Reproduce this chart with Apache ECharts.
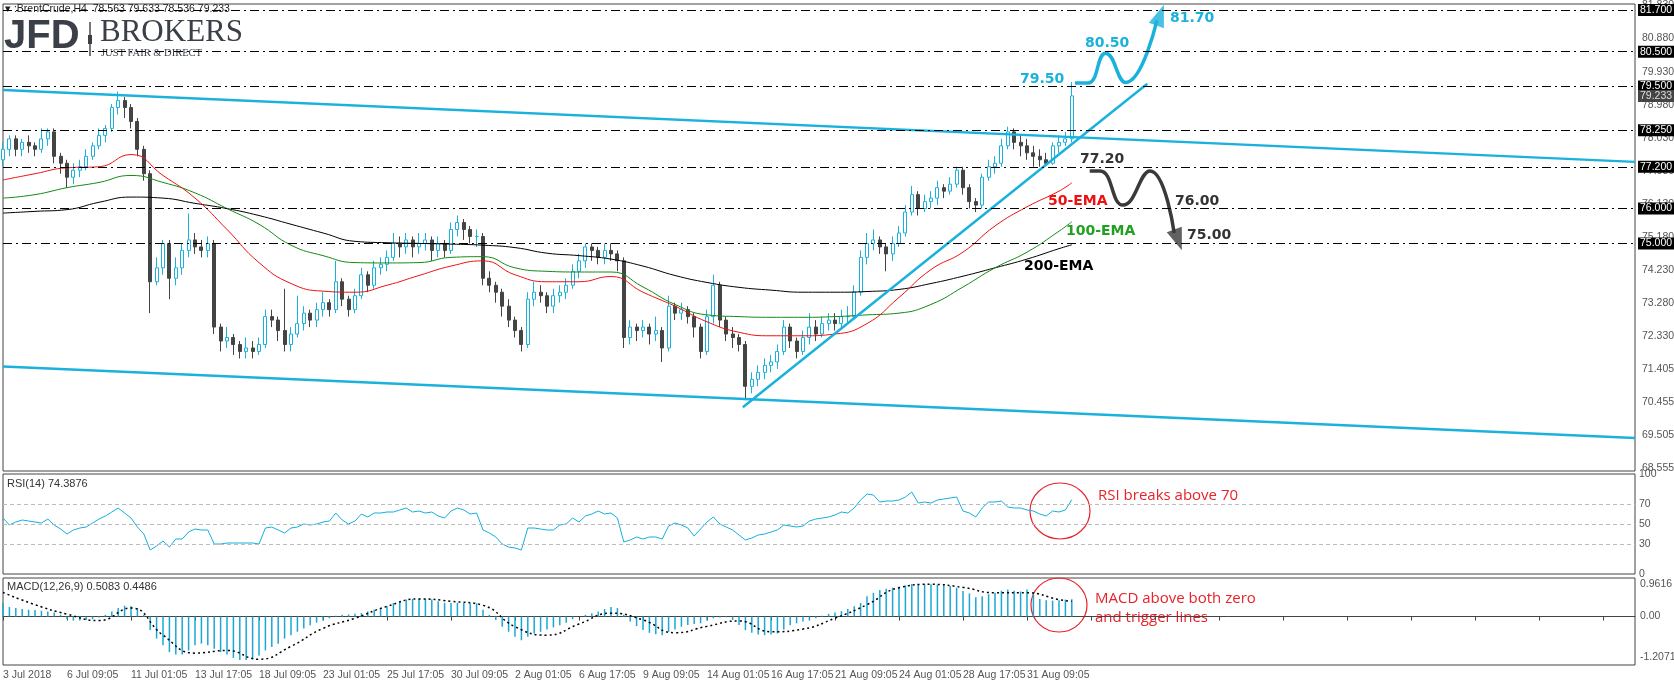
<!DOCTYPE html>
<html>
<head>
<meta charset="utf-8">
<script src="https://cdn.jsdelivr.net/npm/echarts@6/dist/echarts.min.js"></script>
<style>
  html, body {margin: 0; padding: 0; background: #fff;}
  #chart {width: 1674px; height: 686px;}
</style>
</head>
<body>
<div id="chart"></div>
<script>
// 8h candles
const opens = [77.4,77.7,78.0,77.7,77.9,77.8,77.7,78.0,78.2,77.5,77.3,76.9,77.1,77.2,77.5,77.8,78.1,78.3,78.9,79.1,
  78.9,78.5,77.7,77.0,73.9,74.3,75.0,74.0,74.3,74.8,75.1,74.9,74.8,75.0,72.6,72.2,72.3,72.1,71.9,72.0,
  71.9,72.1,72.9,72.8,72.5,72.1,72.4,72.7,73.0,72.8,73.1,73.3,73.1,73.9,73.4,73.1,73.5,74.1,73.8,74.3,
  74.4,74.6,75.0,74.9,75.1,74.9,75.0,75.1,74.8,75.0,74.8,75.4,75.6,75.4,75.2,75.2,74.0,73.8,73.6,73.2,
  72.8,72.5,72.1,73.4,73.6,73.5,73.2,73.5,73.6,73.8,74.2,74.5,74.9,74.8,74.6,74.8,74.7,74.5,72.3,72.6,
  72.5,72.6,72.4,72.5,72.0,73.2,73.0,73.1,72.9,72.6,71.9,72.9,73.8,72.8,72.4,72.3,72.1,70.9,71.1,71.3,
  71.5,71.6,71.9,72.6,72.2,71.9,72.3,72.6,72.4,72.7,72.8,72.7,72.9,72.9,73.6,74.6,75.0,75.1,74.9,74.7,
  75.0,75.3,75.9,76.4,76.0,76.2,76.3,76.6,76.5,76.7,77.1,76.6,76.2,76.1,76.9,77.2,77.3,77.8,78.2,77.9,
  77.8,77.6,77.5,77.4,77.3,77.8,77.9,78.0];
const closes = [77.7,78.0,77.7,77.9,77.8,77.7,78.0,78.2,77.5,77.3,76.9,77.1,77.2,77.5,77.8,78.1,78.3,78.9,79.1,78.9,
  78.5,77.7,77.0,73.9,74.3,75.0,74.0,74.3,74.8,75.1,74.9,74.8,75.0,72.6,72.2,72.3,72.1,71.9,72.0,71.9,
  72.1,72.9,72.8,72.5,72.1,72.4,72.7,73.0,72.8,73.1,73.3,73.1,73.9,73.4,73.1,73.5,74.1,73.8,74.3,74.4,
  74.6,75.0,74.9,75.1,74.9,75.0,75.1,74.8,75.0,74.8,75.4,75.6,75.4,75.2,75.2,74.0,73.8,73.6,73.2,72.8,
  72.5,72.1,73.4,73.6,73.5,73.2,73.5,73.6,73.8,74.2,74.5,74.9,74.8,74.6,74.8,74.7,74.5,72.3,72.6,72.5,
  72.6,72.4,72.5,72.0,73.2,73.0,73.1,72.9,72.6,71.9,72.9,73.8,72.8,72.4,72.3,72.1,70.9,71.1,71.3,71.5,
  71.6,71.9,72.6,72.2,71.9,72.3,72.6,72.4,72.7,72.8,72.7,72.9,72.9,73.6,74.6,75.0,75.1,74.9,74.7,75.0,
  75.3,75.9,76.4,76.0,76.2,76.3,76.6,76.5,76.7,77.1,76.6,76.2,76.1,76.9,77.2,77.3,77.8,78.2,77.9,77.8,
  77.6,77.5,77.4,77.3,77.8,77.9,78.0,79.233];
const lows = [77.2,77.5,77.5,77.5,77.6,77.5,77.6,77.8,77.3,77.0,76.6,76.7,76.9,77.1,77.4,77.7,77.9,78.2,78.7,78.6,
  78.3,77.5,76.8,73.0,73.8,74.1,73.4,73.8,74.1,74.6,74.7,74.6,74.6,72.4,71.9,72.0,71.8,71.7,71.7,71.7,
  71.8,72.0,72.6,72.2,71.9,71.9,72.3,72.5,72.6,72.6,72.9,72.9,73.0,73.2,72.9,73.0,73.4,73.6,73.7,74.1,
  74.2,74.5,74.6,74.7,74.6,74.7,74.8,74.5,74.6,74.6,74.7,75.2,75.1,75.0,74.9,73.8,73.6,73.3,72.9,72.6,
  72.3,71.9,72.0,73.2,73.3,73.0,73.0,73.3,73.4,73.7,74.0,74.3,74.5,74.4,74.4,74.5,74.2,72.0,72.1,72.2,
  72.3,72.1,72.2,71.6,71.9,72.8,72.8,72.7,72.3,71.7,71.8,72.7,72.6,72.2,72.0,71.9,70.5,70.7,70.9,71.1,
  71.3,71.4,71.8,72.0,71.7,71.8,72.1,72.2,72.3,72.5,72.5,72.6,72.7,72.8,73.5,74.4,74.8,74.7,74.2,74.5,
  74.9,75.2,75.8,75.8,75.9,76.0,76.1,76.3,76.4,76.6,76.4,76.0,75.9,76.0,76.8,77.0,77.2,77.7,77.7,77.5,
  77.4,77.2,77.2,77.25,77.25,77.6,77.8,77.9];
const highs = [77.9,78.1,78.1,78.0,78.1,77.9,78.3,78.3,78.3,77.6,77.4,77.3,77.4,77.7,77.9,78.3,78.4,79.0,79.36,79.2,
  79.0,78.6,77.8,77.1,74.6,75.1,75.1,74.6,75.0,75.86,75.3,75.1,75.2,75.1,72.7,72.6,72.4,72.2,72.3,72.2,
  72.3,73.1,73.1,72.9,73.7,72.6,73.5,73.2,73.1,73.3,73.6,73.4,74.5,74.0,73.5,73.7,74.3,74.2,74.5,74.6,
  74.8,75.3,75.2,75.3,75.2,75.3,75.3,75.2,75.2,75.1,75.6,75.8,75.7,75.5,75.4,75.3,74.2,73.9,73.7,73.4,
  72.9,72.6,73.6,73.9,73.8,73.6,73.7,73.8,74.0,74.4,74.7,75.0,75.0,74.9,75.0,75.0,74.8,74.6,72.8,72.7,
  72.8,72.7,72.9,72.6,73.5,73.3,73.3,73.2,73.0,72.7,73.1,74.1,73.9,72.9,72.6,72.4,72.2,71.3,71.5,71.7,
  71.8,72.1,72.8,72.7,72.3,72.5,73.0,72.8,72.9,73.0,73.0,73.1,73.2,73.8,74.8,75.3,75.4,75.2,75.0,75.2,
  75.5,76.1,76.65,76.5,76.4,76.5,76.8,76.7,76.9,77.2,77.2,76.7,76.3,77.0,77.4,77.5,78.0,78.35,78.3,78.1,
  78.0,77.8,77.7,77.6,77.9,78.1,78.2,79.633];

// moving averages, read every 5th candle (null in between)
const emaIdx = [0,5,10,15,20,25,30,35,40,45,50,55,60,65,70,75,80,85,90,95,100,105,110,115,120,125,130,135,140,145,150,155,160,165,167];
const ema50 = [76.82,77.0,77.17,77.2,77.55,76.95,76.3,75.4,74.45,73.85,73.63,73.6,73.8,74.08,74.35,74.5,74.1,73.9,73.9,74.05,
  73.6,73.2,72.75,72.45,72.35,72.35,72.4,72.7,73.45,74.25,74.75,75.5,76.05,76.5,76.74];
const ema100 = [76.3,76.4,76.6,76.75,76.95,76.75,76.45,76.0,75.55,74.95,74.65,74.45,74.44,74.45,74.6,74.62,74.3,74.2,74.18,74.18,
  73.75,73.25,72.95,72.9,72.88,72.88,72.9,72.95,73.0,73.25,73.75,74.3,74.75,75.35,75.62];
const ema200 = [75.87,75.92,75.97,76.18,76.33,76.3,76.15,76.0,75.8,75.55,75.3,75.06,75.02,75.0,74.98,74.95,74.88,74.72,74.65,74.55,
  74.35,74.08,73.88,73.74,73.66,73.6,73.6,73.62,73.68,73.85,74.06,74.3,74.55,74.85,74.96];

const rsi = [56,49,52,54,53,52,51,55,49,45,40,44,46,47,51,55,58,62,66,61,
  56,47,40,24,28,33,27,35,35,42,45,44,44,30,30,31,31,31,31,31,
  30,46,47,44,41,46,47,50,49,50,52,53,61,54,50,53,60,57,61,61,
  62,62,64,66,62,63,61,62,58,56,63,66,64,60,61,44,41,37,30,27,
  26,24,46,46,45,44,44,49,50,56,52,58,60,63,60,61,56,32,34,37,
  35,37,37,35,48,51,49,46,38,45,52,57,50,47,44,39,34,36,39,40,
  42,44,49,48,47,48,53,55,56,57,59,62,61,66,74,80,79,72,73,73,
  74,77,82,71,72,71,74,75,76,77,63,61,57,66,72,72,73,67,66,66,
  64,63,60,58,63,62,64,74.39];
const macdHist = [0.40,0.28,0.25,0.22,0.2,0.19,0.17,0.15,0.12,0.05,-0.08,-0.12,-0.12,-0.1,-0.08,-0.03,0.05,0.15,0.25,0.32,
  0.3,0.25,0.05,-0.4,-0.65,-0.85,-1.05,-1.12,-1.12,-1.0,-0.85,-0.8,-0.85,-0.95,-1.05,-1.12,-1.22,-1.28,-1.28,-1.26,
  -1.15,-1.0,-0.9,-0.8,-0.65,-0.55,-0.45,-0.35,-0.26,-0.18,-0.12,-0.05,0.02,0.05,0.06,0.08,0.1,0.15,0.2,0.25,
  0.3,0.4,0.45,0.5,0.52,0.52,0.52,0.5,0.45,0.4,0.4,0.4,0.4,0.39,0.39,0.2,0.05,-0.1,-0.3,-0.45,
  -0.6,-0.7,-0.6,-0.5,-0.45,-0.38,-0.32,-0.26,-0.18,-0.08,0.0,0.05,0.1,0.15,0.22,0.28,0.25,0.05,-0.15,-0.28,
  -0.4,-0.48,-0.52,-0.55,-0.45,-0.38,-0.3,-0.25,-0.22,-0.2,-0.12,-0.05,-0.03,-0.02,-0.1,-0.25,-0.4,-0.48,-0.53,-0.55,
  -0.53,-0.5,-0.38,-0.26,-0.2,-0.15,-0.12,-0.05,0.02,0.08,0.12,0.16,0.22,0.3,0.4,0.6,0.7,0.78,0.82,0.85,
  0.88,0.92,0.96,0.95,0.95,0.95,0.94,0.92,0.9,0.85,0.75,0.68,0.57,0.6,0.66,0.7,0.76,0.8,0.76,0.74,
  0.8,0.66,0.52,0.48,0.47,0.48,0.5,0.5083];
const macdSignal = [0.71,0.35,0.07,-0.12,0.25,-0.55,-1.08,-1.0,-1.26,-0.88,-0.35,-0.05,0.3,0.52,0.45,0.33,-0.3,-0.55,-0.22,0.1,
  -0.1,-0.48,-0.29,-0.13,-0.45,-0.37,-0.05,0.35,0.85,0.95,0.86,0.7,0.7,0.5,0.4486];

const dateLabels = ['3 Jul 2018','6 Jul 09:05','11 Jul 01:05','13 Jul 17:05','18 Jul 09:05','23 Jul 01:05','25 Jul 17:05',
  '30 Jul 09:05','2 Aug 01:05','6 Aug 17:05','9 Aug 09:05','14 Aug 01:05','16 Aug 17:05','21 Aug 09:05','24 Aug 01:05',
  '28 Aug 17:05','31 Aug 09:05'];
const priceTicks = [68.555,69.505,70.455,71.405,72.330,73.280,74.230,75.180,76.130,77.080,78.030,78.980,79.930,80.880,81.830];
const levels = [81.70,80.50,79.50,78.25,77.20,76.00,75.00];
const macdTicks = [0.9616,0,-1.2071];

const SLOTS = 256;
const cats = [];
for (let i = 0; i < SLOTS; i++) cats.push(i % 10 === 0 && dateLabels[i / 10] ? dateLabels[i / 10] : '');

const candles = closes.map((c, i) => [opens[i], c, lows[i], highs[i]]);
const sparse = (vals) => {
    const out = new Array(closes.length).fill(null);
    emaIdx.forEach((k, j) => out[k] = vals[j]);
    return out;
};

const BLUE = '#1ab2dc';
const dashDot = [9, 4, 2, 4];
const HIDDEN = {color: 'rgba(0,0,0,0)', width: 0};
const FONT = 'Liberation Sans';

const chart = echarts.init(document.getElementById('chart'));
const axisText = {color: '#555', fontFamily: FONT, fontSize: 10.5};

chart.setOption({
    animation: false,
    grid: [
        {left: 3, right: 39, top: 4, height: 467, show: true, borderColor: '#444', borderWidth: 1},
        {left: 3, right: 39, top: 474, height: 100, show: true, borderColor: '#444', borderWidth: 1},
        {left: 3, right: 39, top: 578, height: 87, show: true, borderColor: '#444', borderWidth: 1},
    ],
    xAxis: [
        {type: 'category', gridIndex: 0, data: cats, boundaryGap: false, show: false},
        {type: 'value', gridIndex: 0, min: 0, max: SLOTS - 1, show: false},
        {type: 'category', gridIndex: 1, data: cats, boundaryGap: false, show: false},
        {
            type: 'category', gridIndex: 2, data: cats, boundaryGap: false,
            axisLine: {lineStyle: {color: '#444'}},
            axisTick: {interval: 9, length: 4, lineStyle: {color: '#444'}},
            axisLabel: {interval: 9, align: 'left', margin: 5, ...axisText}
        },
    ],
    yAxis: [
        {gridIndex: 0, min: 68.47, max: 81.87, position: 'right', axisLabel: {show: false}, splitLine: {show: false}, axisLine: {show: false}, axisTick: {show: false}},
        {
            gridIndex: 1, min: 0, max: 100, interval: 10, position: 'right', splitLine: {show: false},
            axisLine: {show: false}, axisTick: {show: false},
            axisLabel: {...axisText, margin: 4, formatter: v => [0, 30, 50, 70, 100].includes(v) ? v : ''}
        },
        {gridIndex: 2, min: -1.43, max: 1.137, position: 'right', axisLabel: {show: false}, splitLine: {show: false}, axisLine: {show: false}, axisTick: {show: false}},
    ],
    series: [
        {
            type: 'candlestick', xAxisIndex: 0, yAxisIndex: 0, data: candles, barWidth: 3.5,
            itemStyle: {color: '#ffffff', borderColor: BLUE, color0: '#444444', borderColor0: '#444444', borderWidth: 1},
            markLine: {
                silent: true, symbol: 'none', precision: 3,
                lineStyle: {color: '#000', type: dashDot, width: 1},
                label: {position: 'end', distance: 3, backgroundColor: '#000', color: '#fff', padding: [1, 2, 0, 2], fontFamily: FONT, fontSize: 10.5,
                    formatter: p => p.value.toFixed(3)},
                data: priceTicks.map(v => ({yAxis: v, lineStyle: HIDDEN, label: {backgroundColor: 'transparent', color: '#555', distance: 5}}))
                    .concat(levels.map(v => ({yAxis: v})))
                    .concat([{yAxis: 79.233, lineStyle: HIDDEN, label: {backgroundColor: '#444', color: '#ddd'}}])
            }
        },
        {type: 'line', xAxisIndex: 0, yAxisIndex: 0, data: sparse(ema200), connectNulls: true, symbol: 'none', smooth: true, lineStyle: {color: '#000', width: 1}},
        {type: 'line', xAxisIndex: 0, yAxisIndex: 0, data: sparse(ema100), connectNulls: true, symbol: 'none', smooth: true, lineStyle: {color: '#138a13', width: 1}},
        {type: 'line', xAxisIndex: 0, yAxisIndex: 0, data: sparse(ema50), connectNulls: true, symbol: 'none', smooth: true, lineStyle: {color: '#ee1111', width: 1}},
        // drawn channel and trend lines
        {type: 'line', xAxisIndex: 1, yAxisIndex: 0, data: [[0, 79.4], [255, 77.34]], symbol: 'none', lineStyle: {color: BLUE, width: 2.5}},
        {type: 'line', xAxisIndex: 1, yAxisIndex: 0, data: [[0, 71.47], [255, 69.42]], symbol: 'none', lineStyle: {color: BLUE, width: 2.5}},
        {type: 'line', xAxisIndex: 1, yAxisIndex: 0, data: [[115.6, 70.3], [178.8, 79.58]], symbol: 'none', lineStyle: {color: BLUE, width: 2.5}},
        // scenario paths
        {type: 'line', xAxisIndex: 1, yAxisIndex: 0, smooth: 0.5, symbol: 'none', lineStyle: {color: BLUE, width: 3.5},
            data: [[167.5, 79.6], [169.5, 79.6], [172.3, 80.46], [175.4, 79.62], [180.3, 81.4]]},
        {type: 'scatter', xAxisIndex: 1, yAxisIndex: 0, symbol: 'triangle', symbolSize: [16, 22], symbolRotate: -20,
            itemStyle: {color: BLUE}, data: [[180.8, 81.55]]},
        {type: 'line', xAxisIndex: 1, yAxisIndex: 0, smooth: 0.5, symbol: 'none', lineStyle: {color: '#3a3a3a', width: 3.5},
            data: [[169.8, 77.08], [171.4, 77.08], [175.0, 76.1], [179.2, 77.08], [183.0, 75.3]]},
        {type: 'scatter', xAxisIndex: 1, yAxisIndex: 0, symbol: 'triangle', symbolSize: [16, 22], symbolRotate: 200,
            itemStyle: {color: '#3a3a3a'}, data: [[183.6, 75.1]]},
        // RSI
        {
            type: 'line', xAxisIndex: 2, yAxisIndex: 1, data: rsi, symbol: 'none', lineStyle: {color: '#12b0dc', width: 1},
            markLine: {silent: true, symbol: 'none', label: {show: false}, lineStyle: {color: '#bbb', type: [4, 3], width: 1},
                data: [{yAxis: 70}, {yAxis: 50}, {yAxis: 30}]}
        },
        // MACD
        {
            type: 'bar', xAxisIndex: 3, yAxisIndex: 2, data: macdHist, barWidth: 1.5, itemStyle: {color: '#1aa8d2'},
            markLine: {silent: true, symbol: 'none', lineStyle: HIDDEN, precision: 4,
                label: {position: 'end', distance: 5, color: '#555', fontFamily: FONT, fontSize: 10.5,
                    formatter: p => p.value === 0 ? '0.00' : p.value.toFixed(4)},
                data: macdTicks.map(v => ({yAxis: v}))}
        },
        {type: 'line', xAxisIndex: 3, yAxisIndex: 2, data: sparse(macdSignal), connectNulls: true, smooth: true, symbol: 'none',
            lineStyle: {color: '#000', width: 1.5, type: [2, 3]}},
    ],
    graphic: [
        {type: 'text', left: 5, top: 4, style: {text: '\u25BE :BrentCrude,H4  78.563 79.633 78.536 79.233', fill: '#222', font: '10.5px "Liberation Sans"'}},
        {type: 'text', left: 4, top: 17, style: {text: 'JFD', fill: '#3b4048', font: 'bold 40px "Liberation Sans"'}},
        {type: 'rect', shape: {x: 89, y: 22, width: 2, height: 34}, style: {fill: '#777'}},
        {type: 'rect', shape: {x: 88, y: 35, width: 4, height: 9}, style: {fill: '#3b4048'}},
        {type: 'text', left: 100, top: 17, style: {text: 'BROKERS', fill: '#3b4048', font: '31px "Liberation Serif"'}},
        {type: 'text', left: 101, top: 48, style: {text: 'JUST FAIR & DIRECT', fill: '#3b4048', font: '10.5px "Liberation Serif"', letterSpacing: 2}},

        {type: 'text', left: 1020, top: 72, style: {text: '79.50', fill: BLUE, font: 'bold 14px "DejaVu Sans"'}},
        {type: 'text', left: 1085, top: 36, style: {text: '80.50', fill: BLUE, font: 'bold 14px "DejaVu Sans"'}},
        {type: 'text', left: 1170, top: 11, style: {text: '81.70', fill: BLUE, font: 'bold 14px "DejaVu Sans"'}},
        {type: 'text', left: 1080, top: 152, style: {text: '77.20', fill: '#333', font: 'bold 14px "DejaVu Sans"'}},
        {type: 'text', left: 1175, top: 194, style: {text: '76.00', fill: '#333', font: 'bold 14px "DejaVu Sans"'}},
        {type: 'text', left: 1187, top: 228, style: {text: '75.00', fill: '#333', font: 'bold 14px "DejaVu Sans"'}},
        {type: 'text', left: 1048, top: 194, style: {text: '50-EMA', fill: '#ee1111', font: 'bold 14px "DejaVu Sans"'}},
        {type: 'text', left: 1066, top: 224, style: {text: '100-EMA', fill: '#22a022', font: 'bold 14px "DejaVu Sans"'}},
        {type: 'text', left: 1024, top: 259, style: {text: '200-EMA', fill: '#000', font: 'bold 14px "DejaVu Sans"'}},

        {type: 'text', left: 7, top: 478, style: {text: 'RSI(14) 74.3876', fill: '#333', font: '11px "Liberation Sans"'}},
        {type: 'text', left: 7, top: 581, style: {text: 'MACD(12,26,9) 0.5083 0.4486', fill: '#333', font: '11px "Liberation Sans"'}},

        {type: 'ellipse', shape: {cx: 1060, cy: 511, rx: 30, ry: 28}, style: {fill: 'none', stroke: '#e8222a', lineWidth: 1.2}},
        {type: 'ellipse', shape: {cx: 1059, cy: 605, rx: 28, ry: 27}, style: {fill: 'none', stroke: '#e8222a', lineWidth: 1.2}},
        {type: 'text', left: 1098, top: 488, style: {text: 'RSI breaks above 70', fill: '#e8222a', font: '15px "Open Sans"'}},
        {type: 'text', left: 1095, top: 589, style: {text: 'MACD above both zero\nand trigger lines', fill: '#e8222a', font: '15px "Open Sans"', lineHeight: 19}},
    ]
});
</script>
</body>
</html>
